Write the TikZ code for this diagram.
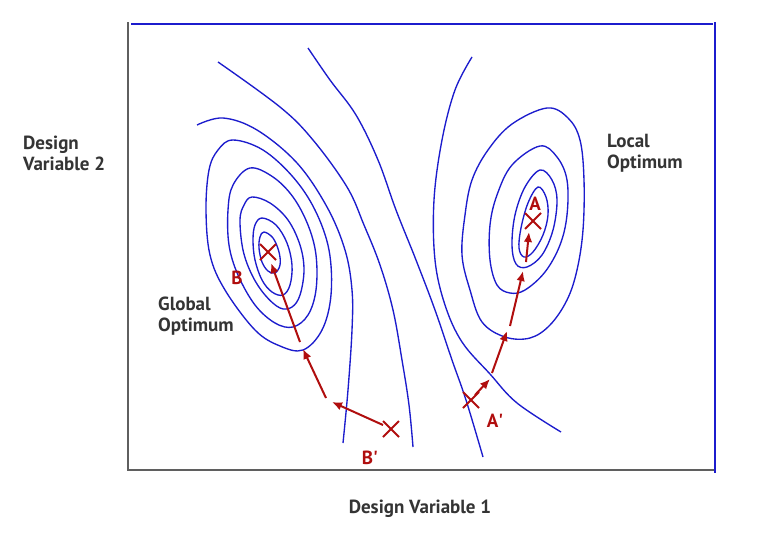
\documentclass[tikz,border=0pt]{standalone}
\usepackage{fontspec}
\setmainfont{PT Sans}
\usetikzlibrary{arrows.meta}
\definecolor{cblue}{RGB}{28,28,205}
\definecolor{cred}{RGB}{176,14,14}
\definecolor{cgray}{RGB}{95,95,95}
\definecolor{ctext}{RGB}{52,52,52}
\begin{document}
\begin{tikzpicture}[x=1pt,y=-1pt,
 contour/.style={cblue,line width=1.35pt},
 framegray/.style={cgray,line width=1.6pt},
 frameblue/.style={cblue,line width=1.6pt},
 grad/.style={cred,line width=2pt,-{Latex[length=10pt,width=8.5pt]}},
 crossmark/.style={cred,line width=2pt},
 axislabel/.style={ctext,font=\bfseries\fontsize{19}{22}\selectfont,anchor=base west,inner sep=0pt},
 ptlabel/.style={cred,font=\bfseries\fontsize{19}{22}\selectfont,anchor=base,inner sep=0pt}]
\useasboundingbox (0,0) rectangle (768,541);
\fill[white] (0,0) rectangle (768,541);
% frame
\coordinate (tl) at (128,22);
\coordinate (bl) at (128,470);
\coordinate (br) at (714,470);
\coordinate (tl2) at (131,24);
\coordinate (tr) at (713,24);
\coordinate (rt) at (715,22);
\coordinate (rb) at (715,473);
\draw[framegray] (tl) -- (bl) -- (br);
\draw[frameblue] (tl2) -- (tr);
\draw[frameblue] (rt) -- (rb);
% left closed contours
\draw[contour] plot[smooth cycle, tension=0.6] coordinates {(233,140) (263,150) (293,177) (315,210) (329,250) (331,295) (322,330) (303,350) (280,346) (255,330) (225,290) (210,255) (206,210) (209,170) (218,150)};
\draw[contour] plot[smooth cycle, tension=0.6] coordinates {(250,168) (273,177) (293,197) (308,225) (316,255) (316,290) (308,315) (293,327) (275,323) (255,305) (238,275) (229,245) (228,210) (233,185)};
\draw[contour] plot[smooth cycle, tension=0.6] coordinates {(252,197) (270,203) (288,220) (300,245) (304,270) (300,295) (292,307) (280,308) (265,295) (252,275) (243,250) (240,220) (244,205)};
\draw[contour] plot[smooth cycle, tension=0.6] coordinates {(262,218) (276,225) (287,243) (292,265) (290,285) (283,295) (272,292) (262,280) (255,260) (253,240) (255,225)};
\draw[contour] plot[smooth cycle, tension=0.6] coordinates {(264,232) (273,238) (279,252) (280,265) (275,273) (268,271) (262,262) (259,248) (260,237)};
% right closed contours
\draw[contour] plot[smooth cycle, tension=0.6] coordinates {(547,108) (568,118) (580,140) (584,180) (583,230) (577,270) (567,300) (550,325) (530,338) (505,337) (482,322) (470,290) (462,255) (465,215) (472,180) (488,150) (512,124)};
\draw[contour] plot[smooth cycle, tension=0.6] coordinates {(540,146) (557,157) (567,180) (567,215) (560,245) (545,272) (525,290) (510,293) (497,285) (490,260) (490,225) (497,195) (512,165)};
\draw[contour] plot[smooth cycle, tension=0.6] coordinates {(540,170) (552,180) (557,200) (553,230) (542,255) (527,267) (516,264) (512,245) (515,215) (525,187)};
\draw[contour] plot[smooth cycle, tension=0.6] coordinates {(538,187) (546,197) (548,215) (543,235) (533,252) (524,257) (519,248) (521,228) (528,203)};
% open contours
\draw[contour] plot[smooth, tension=0.6] coordinates {(197,125) (223,118) (257,130) (297,163) (327,207) (345,250) (352,290) (352,330) (348,390) (343,443)};
\draw[contour] plot[smooth, tension=0.6] coordinates {(218,62) (280,107) (313,140) (347,187) (364,225) (380,265) (393,310) (402,360) (409,405) (413,447)};
\draw[contour] plot[smooth, tension=0.6] coordinates {(308,48) (330,80) (356,115) (378,160) (396,210) (416,260) (435,310) (452,360) (466,400) (483,457)};
\draw[contour] plot[smooth, tension=0.6] coordinates {(472,57) (455,90) (442,140) (434,200) (435,260) (445,305) (462,342) (490,374) (517,403) (561,432)};
% crosses
\coordinate (Bx) at (268,252);
\coordinate (Ax) at (533,221);
\coordinate (Bpx) at (391,429);
\coordinate (Apx) at (471,400);
\foreach \c in {Bx,Ax,Bpx,Apx}{
  \draw[crossmark] ([shift={(-8,-8)}]\c) -- ([shift={(8,8)}]\c);
  \draw[crossmark] ([shift={(-8,8)}]\c) -- ([shift={(8,-8)}]\c);
}
% gradient paths B
\coordinate (b1s) at (383,425);
\coordinate (b1e) at (332,402);
\coordinate (b2s) at (326,398);
\coordinate (b2e) at (303,349);
\coordinate (b3s) at (300,342);
\coordinate (b3e) at (271,263);
\draw[grad] (b1s) -- (b1e);
\draw[grad] (b2s) -- (b2e);
\draw[grad] (b3s) -- (b3e);
% gradient paths A
\coordinate (a1s) at (475,395);
\coordinate (a1e) at (490,379);
\coordinate (a2s) at (492,373);
\coordinate (a2e) at (507,331);
\coordinate (a3s) at (510,326);
\coordinate (a3e) at (523,271);
\coordinate (a4s) at (526,262);
\coordinate (a4e) at (529,232);
\draw[grad] (a1s) -- (a1e);
\draw[grad] (a2s) -- (a2e);
\draw[grad] (a3s) -- (a3e);
\draw[grad] (a4s) -- (a4e);
% point labels
\node[ptlabel] (lB) at (237,284) {B};
\node[ptlabel] (lA) at (535,210) {A};
\node[ptlabel] (lBp) at (370,464) {B\textquotesingle};
\node[ptlabel] (lAp) at (495,427) {A\textquotesingle};
% text labels
\node[axislabel] (dv2a) at (23,149) {Design};
\node[axislabel] (dv2b) at (23,170) {Variable 2};
\node[axislabel] (loa) at (607,147) {Local};
\node[axislabel] (lob) at (607,168) {Optimum};
\node[axislabel] (goa) at (158,310) {Global};
\node[axislabel] (gob) at (158,331) {Optimum};
\node[ctext,font=\bfseries\fontsize{19}{22}\selectfont,anchor=base,inner sep=0pt] (dv1) at (420,513) {Design Variable 1};
\end{tikzpicture}
\end{document}
